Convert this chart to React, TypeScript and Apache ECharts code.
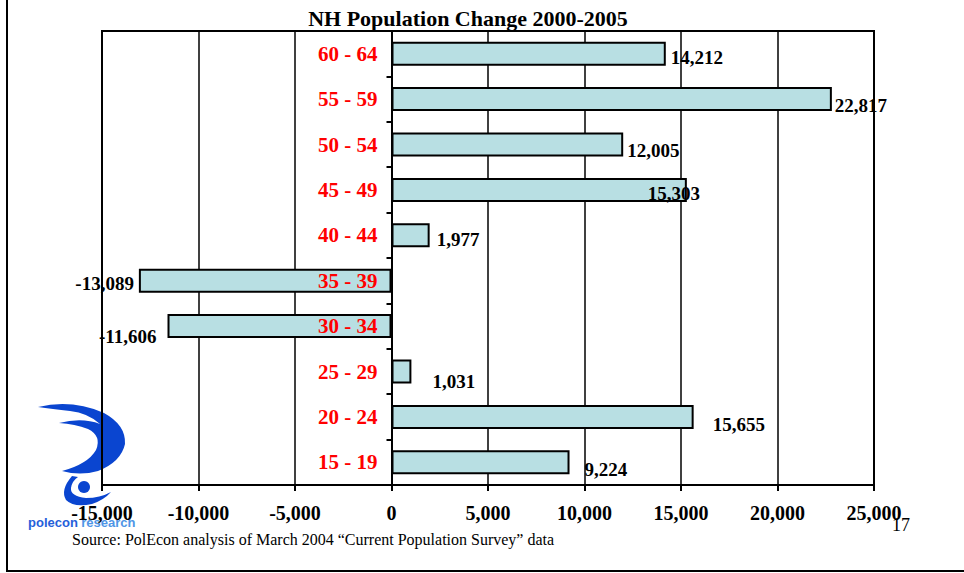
import React, { useEffect, useRef } from "react";
import * as echarts from "echarts";

const TITLE = "NH Population Change 2000-2005";
const SOURCE = "Source: PolEcon analysis of March 2004 \u201cCurrent Population Survey\u201d data";
const PAGE_NO = "17";

// bottom to top (ECharts category order on y axis)
const categories = ["15 - 19", "20 - 24", "25 - 29", "30 - 34", "35 - 39", "40 - 44", "45 - 49", "50 - 54", "55 - 59", "60 - 64"];
const changes = [9224, 15655, 1031, -11606, -13089, 1977, 15303, 12005, 22817, 14212];
// label nudges (style only)
const labelDx = [10, 14, 16, -6, 0, 2, -44, -1, -2, 0];
const labelDy = [7, 8, 10, 10, 3, 4, 4, 6, 6, 4];

const X_MIN = -15000;
const X_MAX = 25000;
const X_STEP = 5000;

const SERIF = "'Liberation Serif', 'Times New Roman', serif";
const fmt = (v: number) => v.toLocaleString("en-US");

const W = 964;
const GRID_LEFT = 102;
const GRID_RIGHT = 90;

export default function App() {
  const ref = useRef<HTMLDivElement>(null);
  useEffect(() => {
    if (!ref.current) return;
    const chart = echarts.init(ref.current, null, { renderer: "svg" });

    echarts.graphic.registerShape(
      "logoHook",
      echarts.graphic.extendPath(
        "M38,407 Q72,399 104,413 Q126,425 125,444 Q121,462 98,471 Q80,476 62,471 Q88,464 96,450 Q102,436 88,429 Q75,424 59,423 Q82,417 100,424 Q88,413 70,411 Q52,409 38,407 Z",
        {}
      ) as any
    );
    echarts.graphic.registerShape(
      "logoSwoosh",
      echarts.graphic.extendPath(
        "M72,476 Q60,490 66,500 Q74,508 92,504 Q104,500 111,492 Q100,498 86,498 Q70,496 71,488 Q72,481 78,477 Z",
        {}
      ) as any
    );

    const plotWidth = W - GRID_LEFT - GRID_RIGHT;
    const zeroOffset = -plotWidth * (0 - X_MIN) / (X_MAX - X_MIN);

    const data = changes.map((v, i) => ({
      value: v,
      label: {
        position: v < 0 ? "left" : "right",
        offset: [labelDx[i], labelDy[i]],
      },
    }));

    chart.setOption({
      animation: false,
      backgroundColor: "#fff",
      title: {
        text: TITLE,
        left: 463,
        textAlign: "center",
        top: 2,
        textStyle: { fontFamily: SERIF, fontWeight: "bold", fontSize: 22, color: "#000" },
      },
      grid: {
        left: GRID_LEFT,
        right: GRID_RIGHT,
        top: 31,
        bottom: 88,
        zlevel: 1,
        show: true,
        borderColor: "#000",
        borderWidth: 2,
        backgroundColor: "transparent",
      },
      xAxis: {
        type: "value",
        min: X_MIN,
        max: X_MAX,
        interval: X_STEP,
        axisLine: { show: true, onZero: false, lineStyle: { color: "#000", width: 2 } },
        axisTick: { show: true, length: 6, lineStyle: { color: "#000", width: 2 } },
        axisLabel: {
          margin: 18,
          color: "#000",
          fontFamily: SERIF,
          fontWeight: "bold",
          fontSize: 20,
          formatter: (v: number) => fmt(v),
        },
        splitLine: { show: true, lineStyle: { color: "#000", width: 1.5 } },
      },
      yAxis: {
        type: "category",
        data: categories,
        z: 10,
        offset: zeroOffset,
        axisLine: { show: true, onZero: false, lineStyle: { color: "#000", width: 2 } },
        axisTick: { show: true, length: 5, lineStyle: { color: "#000", width: 2 } },
        axisLabel: {
          margin: 14,
          color: "#FF0000",
          fontFamily: SERIF,
          fontWeight: "bold",
          fontSize: 21,
        },
        splitLine: { show: false },
      },
      series: [
        {
          type: "bar",
          data,
          barWidth: 24,
          itemStyle: { color: "#B8DFE3", borderColor: "#000", borderWidth: 2 },
          label: {
            show: true,
            distance: 5,
            color: "#000",
            fontFamily: SERIF,
            fontWeight: "bold",
            fontSize: 19,
            formatter: (p: any) => fmt(p.value),
          },
        },
      ],
      graphic: [
        {
          type: "polyline",
          z: -20,
          shape: { points: [[7, 0], [7, 571], [964, 571]] },
          style: { stroke: "#000", lineWidth: 2, fill: "none" },
        },
        { type: "logoHook", z: -10, x: 0, y: 0, style: { fill: "#0A45D0" } } as any,
        { type: "logoSwoosh", z: -10, x: 0, y: 0, style: { fill: "#0A45D0" } } as any,
        { type: "circle", z: -10, shape: { cx: 84, cy: 487, r: 6 }, style: { fill: "#0A45D0" } },
        {
          type: "text",
          z: -10,
          x: 28,
          y: 516,
          style: {
            text: "{a|polecon} {b|research}",
            rich: {
              a: { fontFamily: "'Liberation Sans', sans-serif", fontWeight: "bold", fontSize: 13, fill: "#2660DA" },
              b: { fontFamily: "'Liberation Sans', sans-serif", fontWeight: "bold", fontSize: 13, fill: "#4E95E6" },
            },
          },
        },
        {
          type: "text",
          x: 72,
          y: 531,
          style: { text: SOURCE, fontFamily: SERIF, fontSize: 16, fill: "#000" },
        },
        {
          type: "text",
          x: 892,
          y: 516,
          style: { text: PAGE_NO, fontFamily: SERIF, fontSize: 18, fill: "#000" },
        },
      ],
    });
    return () => chart.dispose();
  }, []);
  return <div ref={ref} style={{ position: "fixed", left: 0, top: 0, width: 964, height: 573 }} />;
}
